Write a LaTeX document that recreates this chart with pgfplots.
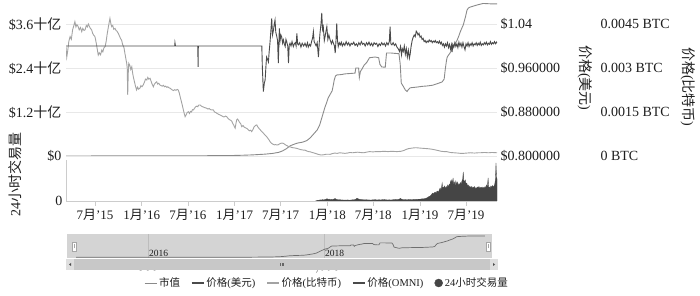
\documentclass[border=0pt]{standalone}
\usepackage{fontspec}
\setmainfont{Liberation Serif}
\newfontfamily\cjk{Noto Sans CJK SC}
\usepackage{pgfplots}
\usepackage{pgfplotstable}
\pgfplotsset{compat=1.18}
\definecolor{mcapc}{HTML}{8A8A8A}
\definecolor{btcc}{HTML}{A3A3A3}
\definecolor{usdc}{HTML}{4A4A4A}
\definecolor{volc}{HTML}{454545}
\definecolor{gridc}{HTML}{E8E8E8}
\definecolor{axisc}{HTML}{CCCCCC}
\definecolor{txtc}{HTML}{1E1E1E}
\definecolor{navbg}{HTML}{D4D4D4}
\definecolor{navgrid}{HTML}{BDBDBD}
\definecolor{scrollc}{HTML}{C8C8C8}
\newcommand{\tickfont}{\fontsize{14}{16}\selectfont}
\newcommand{\xfont}{\fontsize{13}{15}\selectfont}
\newcommand{\legfont}{\fontsize{10.5}{12}\selectfont}
\newcommand{\navfont}{\fontsize{9.5}{11}\selectfont}

\pgfplotstableread{
d v
67 0
300 0.003
500 0.005
700 0.01
760 0.02
800 0.03
850 0.05
880 0.07
905 0.10
920 0.14
935 0.20
950 0.28
965 0.32
977 0.35
1000 0.38
1015 0.42
1028 0.49
1042 0.60
1056 0.71
1066 0.85
1075 1.06
1081 1.20
1087 1.34
1093 1.45
1099 1.58
1107 1.68
1115 1.78
1120 1.95
1123 2.07
1128 2.18
1133 2.21
1150 2.22
1166 2.24
1185 2.25
1205 2.26
1208 2.40
1219 2.40
1222 2.14
1226 2.30
1233 2.38
1241 2.48
1252 2.56
1262 2.68
1284 2.70
1298 2.68
1303 2.50
1310 2.43
1324 2.42
1329 2.81
1345 2.81
1360 2.80
1378 2.79
1383 2.50
1387 1.99
1395 1.90
1403 1.80
1410 1.76
1416 1.82
1422 1.86
1449 1.88
1470 1.90
1489 1.91
1510 1.93
1528 1.97
1548 2.02
1556 2.10
1560 2.35
1565 2.60
1568 2.70
1578 2.80
1587 2.89
1598 3.05
1607 3.16
1614 3.28
1619 3.38
1625 3.48
1631 3.57
1640 3.80
1646 3.98
1652 4.04
1658 4.06
1672 4.09
1686 4.12
1709 4.16
1740 4.15
1764 4.15
}\mcap

\pgfplotstableread{
d v
67 0.00372
70 0.00337
74 0.00360
78 0.00390
83 0.00407
88 0.00398
93 0.00430
98 0.00445
102 0.00458
106 0.00440
110 0.00448
115 0.00441
119 0.00430
124 0.00438
129 0.00424
133 0.00435
138 0.00428
142 0.00430
147 0.00445
151 0.00440
155 0.00450
159 0.00442
163 0.00435
168 0.00430
172 0.00418
176 0.00412
181 0.00407
185 0.00390
189 0.00370
194 0.00344
198 0.00352
203 0.00345
208 0.00361
212 0.00355
216 0.00368
221 0.00373
225 0.00390
229 0.00415
234 0.00441
237 0.00455
240 0.00469
244 0.00450
247 0.00441
251 0.00445
255 0.00432
260 0.00435
264 0.00428
268 0.00425
273 0.00418
277 0.00410
282 0.00400
286 0.00395
290 0.00380
295 0.00370
299 0.00350
303 0.00330
306 0.00316
308 0.00300
310 0.00208
312 0.00280
314 0.00316
318 0.00310
322 0.00295
326 0.00304
329 0.00285
332 0.00270
336 0.00255
340 0.00240
345 0.00225
349 0.00235
353 0.00228
358 0.00231
362 0.00240
366 0.00236
371 0.00242
375 0.00250
380 0.00262
385 0.00259
389 0.00268
393 0.00262
398 0.00265
402 0.00255
406 0.00245
411 0.00236
415 0.00245
420 0.00250
424 0.00253
428 0.00245
432 0.00248
437 0.00242
441 0.00240
446 0.00238
450 0.00241
455 0.00236
459 0.00238
464 0.00234
468 0.00236
473 0.00232
477 0.00231
481 0.00228
486 0.00225
490 0.00223
495 0.00226
500 0.00224
505 0.00227
509 0.00225
513 0.00215
517 0.00200
520 0.00190
523 0.00180
527 0.00165
531 0.00150
536 0.00134
540 0.00140
544 0.00148
549 0.00151
553 0.00145
557 0.00152
561 0.00150
565 0.00158
569 0.00157
573 0.00163
578 0.00168
582 0.00170
586 0.00168
590 0.00174
595 0.00174
600 0.00170
605 0.00168
610 0.00166
616 0.00164
621 0.00163
626 0.00160
631 0.00162
636 0.00158
642 0.00157
647 0.00157
652 0.00150
657 0.00148
662 0.00145
668 0.00142
673 0.00140
678 0.00138
684 0.00135
689 0.00133
695 0.00136
700 0.00134
705 0.00128
710 0.00124
715 0.00122
720 0.00118
724 0.00110
727 0.00106
730 0.00100
733 0.00095
736 0.00110
739 0.00123
742 0.00126
746 0.00122
750 0.00115
755 0.00110
759 0.00100
764 0.00104
769 0.00098
774 0.00096
779 0.00094
784 0.00090
789 0.00086
794 0.00088
798 0.00083
803 0.00090
808 0.00100
813 0.00104
818 0.00106
823 0.00098
828 0.00093
833 0.00088
838 0.00083
842 0.00080
847 0.00075
852 0.00070
857 0.00066
862 0.00060
867 0.00054
872 0.00047
877 0.00043
882 0.00040
887 0.00038
892 0.00039
897 0.000375
902 0.00038
907 0.00041
912 0.00043
917 0.00044
923 0.00043
928 0.00040
933 0.00037
938 0.00035
943 0.00032
950 0.00031
956 0.00029
963 0.00028
970 0.00027
976 0.00026
983 0.00024
990 0.00022
996 0.00021
1002 0.00020
1008 0.00020
1015 0.00017
1022 0.00015
1030 0.00014
1036 0.00012
1041 0.00011
1048 0.00009
1055 0.00007
1062 0.00005
1068 0.00004
1074 0.000034
1080 0.00004
1086 0.00005
1092 0.00006
1100 0.00006
1107 0.000057
1115 0.00008
1125 0.00010
1135 0.00009
1145 0.00011
1155 0.00010
1165 0.00009
1175 0.00010
1185 0.00012
1195 0.00011
1205 0.00012
1215 0.00013
1225 0.00012
1238 0.00011
1250 0.00013
1262 0.00015
1275 0.00014
1288 0.00015
1304 0.00015
1320 0.00016
1335 0.00015
1350 0.00016
1370 0.00015
1385 0.00016
1395 0.00018
1405 0.00022
1415 0.00025
1422 0.00026
1430 0.00027
1440 0.00028
1448 0.00028
1460 0.00027
1475 0.00026
1490 0.00025
1501 0.00024
1515 0.00022
1530 0.00019
1545 0.00016
1555 0.00015
1566 0.00015
1580 0.00012
1595 0.00011
1610 0.00010
1620 0.00009
1632 0.00009
1645 0.00010
1660 0.00011
1675 0.00010
1690 0.00011
1698 0.00011
1715 0.00012
1730 0.00011
1745 0.00012
1764 0.00011
}\btc

\pgfplotstableread{
d v
67 1.000
495 1.000
496 1.006
498 1.000
586 1.000
587 0.962
588 1.000
838 1.000
840 0.962
844 0.917
848 0.933
851 0.938
855 0.969
857 0.980
861 0.975
864 0.971
867 0.990
870 1.005
874 1.030
877 1.050
880 1.020
884 1.029
887 1.040
890 1.047
893 1.025
897 1.017
900 1.010
903 0.969
905 1.000
907 1.032
910 1.010
913 1.020
916 1.017
920 1.005
923 1.011
927 1.003
930 0.999
933 1.012
936 1.008
940 1.000
943 0.969
946 1.002
949 1.005
953 1.000
957 1.008
962 0.999
966 1.004
970 1.006
973 1.000
976 1.023
979 1.004
982 1.002
987 1.006
992 0.998
997 1.005
1003 1.000
1008 1.005
1013 0.999
1018 1.006
1021 0.998
1026 1.003
1030 1.000
1034 1.008
1038 1.015
1041 1.026
1044 1.008
1048 1.004
1052 1.000
1056 1.006
1061 0.980
1064 1.005
1067 1.023
1071 1.040
1074 1.060
1077 1.030
1080 1.035
1084 1.010
1087 1.017
1090 1.025
1094 1.035
1098 1.012
1102 1.020
1107 1.011
1112 1.004
1116 1.010
1120 1.005
1124 1.000
1127 0.987
1130 1.010
1133 1.041
1136 1.010
1139 0.999
1143 1.006
1147 1.002
1151 1.007
1155 1.000
1160 1.005
1165 1.001
1170 1.008
1175 1.002
1180 1.006
1185 1.000
1190 1.005
1195 1.003
1200 1.007
1205 1.001
1210 1.004
1215 1.000
1220 1.006
1225 1.002
1230 1.008
1235 1.003
1240 1.005
1245 1.000
1250 1.006
1255 1.002
1260 1.007
1265 1.001
1270 1.005
1275 1.000
1280 1.006
1285 1.003
1290 1.005
1295 0.999
1300 1.004
1305 1.001
1310 1.006
1315 1.002
1320 1.005
1325 1.000
1330 1.006
1335 1.002
1340 1.008
1343 1.035
1346 1.004
1350 1.002
1355 1.006
1360 1.001
1365 1.004
1370 0.998
1375 0.995
1380 0.990
1384 0.999
1388 0.984
1391 0.995
1395 0.990
1399 1.000
1403 0.985
1407 0.995
1411 0.980
1415 0.992
1419 0.978
1422 0.985
1426 1.000
1430 1.010
1434 1.016
1438 1.020
1442 1.017
1446 1.027
1449 1.025
1453 1.020
1457 1.023
1461 1.016
1465 1.018
1469 1.012
1473 1.014
1477 1.008
1481 1.010
1485 1.006
1489 1.009
1493 1.007
1497 1.011
1501 1.008
1505 1.010
1509 1.006
1513 1.009
1517 1.007
1521 1.010
1525 1.006
1529 1.008
1533 1.005
1537 1.009
1541 1.004
1545 1.007
1549 1.001
1553 1.004
1557 0.998
1561 1.004
1565 1.000
1569 1.006
1573 0.997
1577 1.003
1581 0.994
1585 1.002
1587 0.989
1590 1.003
1594 0.998
1598 1.006
1602 0.999
1606 1.004
1610 0.997
1614 1.007
1618 1.000
1622 1.005
1626 0.998
1630 1.006
1634 0.999
1638 0.993
1642 1.004
1646 1.000
1650 1.006
1654 0.999
1658 1.004
1662 1.001
1666 1.006
1670 1.000
1674 1.004
1678 1.002
1682 1.006
1686 1.001
1690 1.005
1694 1.002
1698 1.007
1702 1.001
1706 1.004
1710 1.002
1714 1.006
1718 1.003
1722 1.007
1726 1.002
1730 1.005
1734 1.003
1738 1.008
1742 1.003
1746 1.006
1750 1.004
1754 1.008
1758 1.004
1762 1.007
1764 1.005
}\usd

\pgfplotstableread{
d v
1050 0
1056 0.5
1060 0.8
1064 0.6
1067 1.2
1072 0.9
1077 1.4
1082 1.0
1087 1.5
1091 1.8
1095 2.3
1099 1.6
1103 1.9
1107 1.4
1112 1.7
1117 1.3
1122 2.0
1127 2.5
1131 1.6
1136 1.4
1141 1.2
1146 1.3
1151 1.0
1156 1.1
1161 0.9
1166 1.0
1171 0.9
1176 1.1
1181 0.8
1186 0.9
1191 1.0
1196 1.3
1201 1.1
1205 1.5
1209 2.0
1213 2.8
1217 2.2
1221 1.8
1225 1.6
1230 1.4
1235 1.3
1240 1.2
1245 1.1
1250 1.3
1255 1.0
1260 1.1
1264 0.9
1270 1.0
1275 1.2
1280 1.1
1284 1.4
1290 1.0
1295 1.1
1300 1.3
1304 1.0
1310 1.2
1315 1.4
1320 1.5
1325 1.2
1330 1.1
1335 1.0
1340 1.2
1345 1.0
1350 1.1
1355 1.3
1360 1.4
1365 1.6
1370 1.3
1375 1.5
1380 2.0
1384 2.6
1388 1.8
1392 1.6
1396 1.4
1400 1.5
1405 1.3
1410 1.2
1415 1.4
1420 1.3
1425 1.5
1430 1.4
1435 1.6
1440 1.5
1445 1.6
1450 1.7
1455 1.8
1461 1.8
1465 2.0
1470 2.2
1475 2.1
1480 2.4
1485 2.8
1489 3.2
1493 4.0
1497 4.5
1501 5.0
1505 6.0
1509 7.5
1512 8.0
1515 6.5
1518 8.5
1521 9.0
1524 7.5
1527 9.5
1530 10.0
1533 8.5
1536 10.5
1540 13.0
1543 11.0
1546 14.0
1548 18.0
1550 12.5
1552 14.0
1555 13.0
1558 15.0
1561 12.0
1564 14.5
1567 13.0
1570 16.0
1573 14.0
1576 17.0
1579 15.5
1581 20.0
1583 18.0
1586 21.0
1588 17.0
1591 23.0
1593 16.0
1596 19.0
1599 15.0
1602 20.0
1605 16.5
1608 19.0
1611 15.0
1614 17.5
1617 16.0
1620 18.5
1623 17.0
1626 20.0
1629 22.0
1631 29.0
1633 21.0
1636 19.0
1639 21.0
1642 17.0
1645 18.0
1648 15.0
1651 16.0
1654 13.5
1657 15.0
1660 13.0
1663 14.5
1666 12.5
1669 14.0
1672 13.0
1675 14.5
1678 12.0
1681 13.5
1684 12.5
1687 14.0
1690 13.0
1693 14.5
1696 12.5
1699 13.5
1702 13.0
1705 14.0
1708 12.5
1711 13.5
1714 13.0
1717 14.5
1720 13.0
1723 16.0
1726 14.0
1729 23.0
1731 13.5
1734 14.0
1737 13.0
1740 15.0
1743 13.5
1746 15.5
1749 14.0
1752 15.0
1755 16.5
1758 22.0
1760 38.0
1762 24.0
1764 22.0
1764 0
}\vol

\pgfplotsset{
  panel/.style={scale only axis, anchor=south west, width=431pt, height=154pt,
    at={(66pt,140pt)}, xmin=67, xmax=1764,
    axis line style={draw=none}, tick style={draw=none}, major tick length=0pt,
    xtick=\empty, every tick label/.append style={text=txtc}},
}

\begin{document}
\begin{tikzpicture}[font=\tickfont]
% market cap (left axis)
\begin{axis}[panel, ymin=0, ymax=4.2,
  ytick={0,1.2,2.4,3.6},
  yticklabels={\$0,\$1.2{\cjk 十亿},\$2.4{\cjk 十亿},\$3.6{\cjk 十亿}},
  ymajorgrids, grid style={gridc, line width=0.8pt},
  yticklabel style={font=\tickfont, xshift=-1pt},
  legend image code/.code={\draw[#1] (0pt,0pt) -- (12pt,0pt);},
  legend style={at={(0.6056,-0.8247)}, anchor=center, legend columns=5,
    draw=none, fill=none, font=\legfont, text=txtc, inner sep=0pt,
    /tikz/every even column/.append style={column sep=9pt}},
  legend cell align=left]
\addplot[mcapc, line width=0.9pt] table[x=d, y=v] {\mcap};
\addlegendentry{{\cjk 市值}}
\addlegendimage{usdc, line width=1.3pt}
\addlegendentry{{\cjk 价格}({\cjk 美元})}
\addlegendimage{btcc, line width=1.3pt}
\addlegendentry{{\cjk 价格}({\cjk 比特币})}
\addlegendimage{usdc, line width=1.3pt}
\addlegendentry{{\cjk 价格}(OMNI)}
\addlegendimage{legend image code/.code={\fill[volc] (6pt,0pt) circle (4pt);}}
\addlegendentry{24{\cjk 小时交易量}}
\end{axis}
% price BTC
\begin{axis}[panel, ymin=0, ymax=0.00525, axis y line*=right, axis x line=none,
  ytick={0,0.0015,0.003,0.0045},
  yticklabels={0 BTC,0.0015 BTC,0.003 BTC,0.0045 BTC},
  yticklabel style={font=\tickfont, xshift=100pt}]
\addplot[btcc, line width=0.9pt] table[x=d, y=v] {\btc};
\end{axis}
% price USD
\begin{axis}[panel, ymin=0.8, ymax=1.08, axis y line*=right, axis x line=none,
  ytick={0.8,0.88,0.96,1.04},
  yticklabels={\$0.800000,\$0.880000,\$0.960000,\$1.04},
  yticklabel style={font=\tickfont}]
\addplot[usdc, line width=0.9pt] table[x=d, y=v] {\usd};
\end{axis}
% volume
\begin{axis}[scale only axis, anchor=south west, at={(66pt,95pt)}, width=431pt, height=41pt,
  xmin=67, xmax=1764, ymin=0, ymax=41,
  axis x line*=bottom, axis y line*=left,
  x axis line style={draw=axisc, -}, y axis line style={draw=axisc, -},
  xtick={181,365,547,731,912,1096,1277,1461,1642},
  xticklabels={7{\cjk 月}'15,1{\cjk 月}'16,7{\cjk 月}'16,1{\cjk 月}'17,7{\cjk 月}'17,1{\cjk 月}'18,7{\cjk 月}'18,1{\cjk 月}'19,7{\cjk 月}'19},
  xtick style={draw=axisc, line width=0.8pt}, xtick align=outside, major tick length=5pt,
  ytick={0}, yticklabels={0}, ytick style={draw=none}, ytick align=inside,
  xticklabel style={font=\xfont, text=txtc}, yticklabel style={font=\tickfont, text=txtc}]
\addplot[fill=volc, draw=volc, line width=0.3pt] table[x=d, y=v] {\vol} \closedcycle;
\end{axis}
% navigator
\begin{axis}[scale only axis, anchor=south west, at={(67pt,38pt)}, width=425pt, height=24pt,
  xmin=29, xmax=1794, ymin=-0.136, ymax=4.54,
  axis line style={draw=none}, tick style={draw=none}, major tick length=0pt,
  xtick={365,1096}, xticklabel={}, ytick=\empty,
  xmajorgrids, grid style={navgrid, line width=0.7pt},
  axis background/.style={fill=navbg}]
\addplot[mcapc!80!black, line width=0.7pt] table[x=d, y=v] {\mcap};
\node[anchor=south west, inner sep=1pt, font=\navfont, text=txtc] at (axis cs:365,-0.136) {2016};
\node[anchor=south west, inner sep=1pt, font=\navfont, text=txtc] at (axis cs:1096,-0.136) {2018};
\end{axis}
% navigator handles
\draw[gray!70, fill=white, line width=0.5pt] (72.5pt,45pt) rectangle (76.5pt,54pt);
\draw[gray!70, line width=0.4pt] (74.5pt,47.5pt) -- (74.5pt,51.5pt);
\draw[gray!70, fill=white, line width=0.5pt] (486pt,45pt) rectangle (490pt,54pt);
\draw[gray!70, line width=0.4pt] (488pt,47.5pt) -- (488pt,51.5pt);
% scrollbar
\fill[scrollc] (66pt,26pt) rectangle (498pt,37pt);
\fill[gray!25] (66pt,26pt) rectangle (74pt,37pt);
\fill[gray!25] (490pt,26pt) rectangle (498pt,37pt);
\fill[black!70] (71pt,30pt) -- (71pt,33pt) -- (69pt,31.5pt) -- cycle;
\fill[black!70] (493pt,30pt) -- (493pt,33pt) -- (495pt,31.5pt) -- cycle;
\draw[black!60, line width=0.4pt] (280.5pt,30pt)--(280.5pt,33pt) (282pt,30pt)--(282pt,33pt) (283.5pt,30pt)--(283.5pt,33pt);
% axis titles
\node[rotate=90, font=\tickfont, text=txtc] at (15pt,121pt) {24{\cjk 小时交易量}};
\node[rotate=-90, font=\tickfont, text=txtc] at (585pt,218pt) {{\cjk 价格}({\cjk 美元})};
\node[rotate=-90, font=\tickfont, text=txtc] at (688pt,209pt) {{\cjk 价格}({\cjk 比特币})};
\pgfresetboundingbox
\path[use as bounding box] (0pt,0pt) rectangle (700pt,296pt);
\end{tikzpicture}
\end{document}
